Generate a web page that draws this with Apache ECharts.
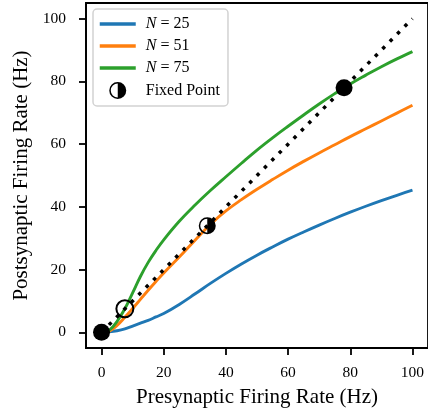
<!DOCTYPE html>
<html>
<head>
<meta charset="utf-8">
<script src="https://cdn.jsdelivr.net/npm/echarts@6/dist/echarts.min.js"></script>
<style>
  html, body { margin: 0; padding: 0; background: #fff; }
  #chart { width: 428px; height: 415px; }
</style>
</head>
<body>
<div id="chart"></div>
<script>
// presynaptic rate samples (Hz)
var preRate = [0, 2.5, 5, 7.5, 10, 12.5, 15, 17.5, 20, 25, 30, 35, 40, 45, 50, 55, 60, 65, 70, 75, 80, 85, 90, 95, 100];
// postsynaptic rate for each N
var postN25 = [0, 0.15, 0.5, 1.1, 2.0, 2.9, 3.8, 4.9, 6.0, 8.9, 12.2, 15.6, 18.8, 21.8, 24.6, 27.2, 29.7, 32.0, 34.2, 36.3, 38.3, 40.2, 42.0, 43.7, 45.3];
var postN51 = [0, 0.4, 2.2, 4.8, 7.6, 10.5, 13.4, 16.2, 18.9, 24.0, 29.3, 34.4, 38.7, 42.3, 45.6, 48.7, 51.7, 54.5, 57.2, 59.8, 62.4, 64.9, 67.4, 69.9, 72.4];
var postN75 = [0, 0.7, 3.5, 7.5, 12.6, 17.8, 22.3, 26.1, 29.5, 35.4, 40.5, 45.2, 49.6, 53.9, 58.1, 62.0, 65.7, 69.3, 72.8, 76.1, 79.2, 82.0, 84.7, 87.2, 89.5];
// identity line
var identityX = [0, 100];
// fixed points
var fixedX = [0, 7.5, 34, 78];
var fixedKind = ["stable", "unstable", "half", "stable"];
var tickValues = [0, 20, 40, 60, 80, 100];

// circle outline with the right half filled
var halfPath = "path://M10,0 A10,10 0 1,1 10,20 A10,10 0 1,1 10,0 Z " +
	"M10,1.8 A8.2,8.2 0 1,0 10,18.2 A8.2,8.2 0 1,0 10,1.8 Z " +
	"M10,1.8 A8.2,8.2 0 0,1 10,18.2 Z";

function pairs(xs, ys) {
	return xs.map(function(x, i) { return [x, ys[i]]; });
}

var serif = "Liberation Serif";

var fixedData = fixedX.map(function(x, i) {
	var k = fixedKind[i];
	if(k == "stable") {
		return { value: [x, x], symbol: "circle", itemStyle: { color: "#000", opacity: 1 } };
	} else if(k == "unstable") {
		return { value: [x, x], symbol: "circle", itemStyle: { color: "rgba(0,0,0,0)", borderColor: "#000", borderWidth: 2, opacity: 1 } };
	}
	return { value: [x, x], symbol: halfPath, itemStyle: { color: "#000", opacity: 1 } };
});

function axis(name) {
	return {
		type: "value",
		min: -5,
		max: 105,
		name: name,
		nameLocation: "middle",
		nameTextStyle: { fontFamily: serif, fontSize: 21, color: "#000" },
		splitLine: { show: false },
		axisLine: { onZero: false, lineStyle: { color: "#000", width: 1.8 } },
		axisTick: { customValues: tickValues, length: 7, lineStyle: { color: "#000", width: 1.8 } },
		axisLabel: { customValues: tickValues, fontFamily: serif, fontSize: 15.5, color: "#000" }
	};
}

var xAxis = axis("Presynaptic Firing Rate (Hz)");
xAxis.nameGap = 39;
xAxis.axisLabel.margin = 17;
var yAxis = axis("Postsynaptic Firing Rate (Hz)");
yAxis.nameGap = 52;
yAxis.axisLabel.margin = 20;

var lineLegend = { itemStyle: { opacity: 0 }, lineStyle: { width: 3.5 } };

var myChart = echarts.init(document.getElementById("chart"));

var option = {
	animation: false,
	grid: { left: 86, top: 3, right: -3, bottom: 67, show: true, borderColor: "#000", borderWidth: 1.8 },
	xAxis: xAxis,
	yAxis: yAxis,
	legend: {
		orient: "vertical",
		left: 93,
		top: 9,
		padding: [7, 8, 7, 5],
		itemWidth: 36,
		itemHeight: 17,
		itemGap: 6,
		backgroundColor: "rgba(255,255,255,0.85)",
		borderColor: "#d2d2d2",
		borderWidth: 1.5,
		borderRadius: 4,
		data: [
			Object.assign({ name: "N = 25" }, lineLegend),
			Object.assign({ name: "N = 51" }, lineLegend),
			Object.assign({ name: "N = 75" }, lineLegend),
			{ name: "Fixed Point", icon: halfPath, itemStyle: { opacity: 1 } }
		],
		formatter: function(name) {
			if(name.charAt(0) == "N") {
				return "{i|N}" + name.slice(1);
			}
			return name;
		},
		textStyle: {
			fontFamily: serif,
			fontSize: 16,
			color: "#000",
			padding: [0, 0, 0, 5],
			rich: { i: { fontFamily: serif, fontSize: 16, fontStyle: "italic", color: "#000" } }
		}
	},
	series: [
		{ name: "N = 25", type: "line", symbol: "none", smooth: 0.4, data: pairs(preRate, postN25), lineStyle: { width: 2.9, color: "#1f77b4" }, itemStyle: { color: "#1f77b4" }, z: 2 },
		{ name: "N = 51", type: "line", symbol: "none", smooth: 0.4, data: pairs(preRate, postN51), lineStyle: { width: 2.9, color: "#ff7f0e" }, itemStyle: { color: "#ff7f0e" }, z: 2 },
		{ name: "N = 75", type: "line", symbol: "none", smooth: 0.4, data: pairs(preRate, postN75), lineStyle: { width: 2.9, color: "#2ca02c" }, itemStyle: { color: "#2ca02c" }, z: 2 },
		{ name: "identity", type: "line", symbol: "none", data: pairs(identityX, identityX), lineStyle: { width: 3.5, color: "#000", type: [3.5, 7] }, z: 3 },
		{ name: "Fixed Point", type: "scatter", symbolSize: 17, data: fixedData, itemStyle: { color: "#000", opacity: 1 }, z: 4 }
	]
};

myChart.setOption(option, true);
</script>
</body>
</html>
